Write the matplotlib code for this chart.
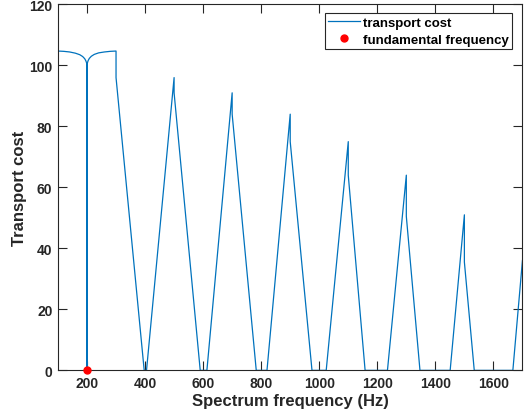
import numpy as np
import matplotlib as mpl
mpl.use('Agg')
from matplotlib import pyplot as plt

mpl.rcParams.update({'font.family': ['Liberation Sans', 'DejaVu Sans'],
                     'font.weight': 'bold',
                     'axes.labelweight': 'bold'})

# transport cost vs candidate fundamental (vertices)
freq = [100, 120, 140, 160, 175, 185, 192, 196, 199, 200, 201, 204, 208, 215, 225, 240, 260, 280, 300,
        300, 397, 405, 500,
        500, 590, 613, 700,
        700, 783, 820, 900,
        900, 975, 1024, 1100,
        1100, 1158, 1235, 1300,
        1300, 1347, 1451, 1500,
        1500, 1534, 1667, 1700]
cost = [104.7, 104.6, 104.4, 104.0, 103.5, 102.9, 102.2, 101.5, 100.7, 0, 100.7, 101.6, 102.3, 103.0,
        103.6, 104.1, 104.4, 104.6, 104.7,
        96, 0, 0, 96,
        91, 0, 0, 91,
        84, 0, 0, 84,
        75, 0, 0, 75,
        64, 0, 0, 64,
        50.5, 0, 0, 51,
        35.5, 0, 0, 36]
f0 = [200]
f0_cost = [0]

xticks = [200, 400, 600, 800, 1000, 1200, 1400, 1600]
yticks = [0, 20, 40, 60, 80, 100, 120]

fig = plt.figure(figsize=(5.29, 4.14), dpi=100)
ax = fig.add_axes([0.1096, 0.103, 0.878, 0.884])

ax.plot(freq, cost, color='#0072BD', lw=0.9, label='transport cost')
ax.plot(f0, f0_cost, 'o', color='red', ms=5, clip_on=False, zorder=5,
        label='fundamental frequency')

ax.set_xlim(100, 1700)
ax.set_ylim(0, 120)
ax.set_xticks(xticks)
ax.set_yticks(yticks)
ax.tick_params(direction='in', length=6.5, width=0.8, top=True, right=True,
               labelsize=10, pad=4, colors='#262626')
for s in ax.spines.values():
    s.set_color('#262626')
    s.set_linewidth(0.8)

ax.set_xlabel('Spectrum frequency (Hz)', fontsize=12, color='#262626', labelpad=2)
ax.set_ylabel('Transport cost', fontsize=12, color='#262626', labelpad=1.5)

leg = ax.legend(loc='upper right', bbox_to_anchor=(0.977, 0.976), fontsize=9.5,
                handlelength=2.4, handletextpad=0.2, borderpad=0.25,
                labelspacing=0.35, fancybox=False, framealpha=1, borderaxespad=0)
leg.get_frame().set_edgecolor('#262626')
leg.get_frame().set_linewidth(0.8)

fig.savefig('out.png', dpi=100)
